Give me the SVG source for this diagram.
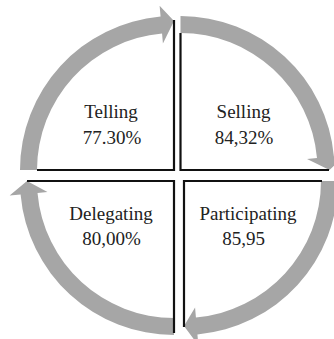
<svg xmlns="http://www.w3.org/2000/svg" width="334" height="339" viewBox="0 0 334 339">
  <style>
    .arrow { fill: #a6a6a6; stroke: none; }
    .edge { fill: none; stroke: #111; stroke-width: 2.2; stroke-linecap: butt; stroke-linejoin: miter; }
    .label { font-family: "Liberation Serif", "Times New Roman", serif; font-size: 19px; fill: #222; text-anchor: middle; }
  </style>
  <rect width="334" height="339" fill="#fff"/>

  <!-- curved arrows running clockwise round the four quadrants -->
  <g id="connectors">
    <path class="arrow" d="M20,170 A154,154 0 0 1 160.58,16.59 L159.62,5.63 L174,21 L162.93,43.48 L162.06,33.52 A137,137 0 0 0 37,170 Z"/>
    <path class="arrow" d="M180.5,16 A154,154 0 0 1 333.91,156.58 L344.87,155.62 L329.5,170 L307.02,158.93 L316.98,158.06 A137,137 0 0 0 180.5,33 Z"/>
    <path class="arrow" d="M338,181 A154,154 0 0 1 197.42,334.41 L198.38,345.37 L184,326 L195.07,307.52 L195.94,317.48 A137,137 0 0 0 321,181 Z"/>
    <path class="arrow" d="M174,335 A154,154 0 0 1 20.59,194.42 L9.63,195.38 L27,181 L47.48,192.07 L37.52,192.94 A137,137 0 0 0 174,318 Z"/>
  </g>

  <!-- quadrant: Telling -->
  <g id="telling">
    <path class="edge" d="M174,20 L174,170 L37,170"/>
    <text class="label" x="111" y="118">Telling</text>
    <text class="label" x="112" y="144">77.30%</text>
  </g>

  <!-- quadrant: Selling -->
  <g id="selling">
    <path class="edge" d="M180.5,33 L180.5,170 L329,170"/>
    <text class="label" x="243.5" y="118">Selling</text>
    <text class="label" x="244" y="144">84,32%</text>
  </g>

  <!-- quadrant: Participating -->
  <g id="participating">
    <path class="edge" d="M322,181 L184,181 L184,327"/>
    <text class="label" x="248" y="220">Participating</text>
    <text class="label" x="243.5" y="245">85,95</text>
  </g>

  <!-- quadrant: Delegating -->
  <g id="delegating">
    <path class="edge" d="M174,333 L174,181 L27,181"/>
    <text class="label" x="111" y="220">Delegating</text>
    <text class="label" x="111.5" y="245">80,00%</text>
  </g>
</svg>
